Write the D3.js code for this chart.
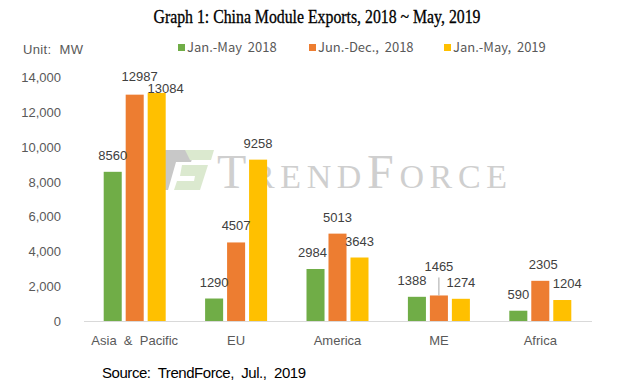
<!DOCTYPE html>
<html>
<head>
<meta charset="utf-8">
<script src="https://cdn.jsdelivr.net/npm/d3@7"></script>
<style>
  body { margin: 0; background: #fff; }
  text { font-family: Arial, "Liberation Sans", sans-serif; }
</style>
</head>
<body>
<div class="svg-container"></div>
<script>
// chart data
var regions = ["Asia & Pacific", "EU", "America", "ME", "Africa"];
var seriesNames = ["Jan.-May 2018", "Jun.-Dec., 2018", "Jan.-May, 2019"];
var janMay2018 = [8560, 1290, 2984, 1388, 590];
var junDec2018 = [12987, 4507, 5013, 1465, 2305];
var janMay2019 = [13084, 9258, 3643, 1274, 1204];
var yTicks = [0, 2000, 4000, 6000, 8000, 10000, 12000, 14000];

var colors = ["#70AD47", "#ED7D31", "#FFC000"];
var series = [janMay2018, junDec2018, janMay2019];
// label nudges [dx, dy] per series/region, like the moved excel labels
var nudges = [
  [[0, 0], [0, 0], [-3, 0], [-5, 0], [0, 0]],
  [[5, -2], [0, 0], [0, 0], [0, -12], [3, 0]],
  [[9, 12], [0, 0], [0, 0], [0, 0], [5, 0]]
];

var svg = d3.select("body").select(".svg-container").append("svg")
    .attr("width", 619)
    .attr("height", 392);

var x0 = d3.scaleBand().domain(regions).range([84, 591]);
var x1 = d3.scaleBand().domain(d3.range(3))
    .range([x0.bandwidth() / 2 - 31, x0.bandwidth() / 2 + 31])
    .paddingInner(0.18).paddingOuter(0);
var y = d3.scaleLinear().domain([0, 14000]).range([321, 77]);

// title
svg.append("text")
    .attr("x", 317).attr("y", 23)
    .attr("text-anchor", "middle")
    .style("font-family", "'Liberation Serif', 'Times New Roman', serif")
    .attr("font-size", "18px")
    .attr("fill", "#000")
    .attr("stroke", "#000").attr("stroke-width", 0.3)
    .attr("textLength", 327)
    .attr("lengthAdjust", "spacingAndGlyphs")
    .text("Graph 1: China Module Exports, 2018 ~ May, 2019");

// watermark
var wm = svg.append("g").attr("opacity", 0.4);
wm.append("path").attr("d", "M163,150 L195,150 L191,162 L176,162 L168,190 L158,190 Z").attr("fill", "#777");
wm.append("path").attr("d", "M185,150 L214,150 L211,160 L190,160 Z").attr("fill", "#a8c98a");
wm.append("path").attr("d", "M182,165 L208,165 L200,190 L174,190 L177,181 L194,181 L195,176 L180,176 Z").attr("fill", "#a8c98a");
wm.append("text")
    .attr("x", 217).attr("y", 188)
    .style("font-family", "'Liberation Serif', 'Times New Roman', serif")
    .style("font-variant", "small-caps")
    .attr("font-size", "48px")
    .attr("fill", "#888")
    .attr("textLength", 290)
    .text("TrendForce");

// unit + legend
svg.append("text").attr("x", 23).attr("y", 54)
    .attr("font-size", "13px").attr("fill", "#595959")
    .style("white-space", "pre")
    .attr("textLength", 60)
    .text("Unit:  MW");

var legX = [178, 309, 444];
var leg = svg.selectAll(".leg").data(seriesNames).enter().append("g")
    .attr("class", "leg")
    .attr("transform", function(d, i) { return "translate(" + legX[i] + ",0)"; });
leg.append("rect").attr("x", 0).attr("y", 44).attr("width", 7).attr("height", 7)
    .attr("fill", function(d, i) { return colors[i]; });
leg.append("text").attr("x", 9).attr("y", 52)
    .attr("font-size", "13px").attr("fill", "#595959")
    .style("font-family", "'Noto Sans CJK KR', 'DejaVu Sans', sans-serif")
    .style("white-space", "pre")
    .text(function(d) { return d.replace(" ", "  "); });

// y axis labels
svg.selectAll(".ytick").data(yTicks).enter().append("text")
    .attr("class", "ytick")
    .attr("x", 61)
    .attr("y", function(d) { return y(d) + 5; })
    .attr("text-anchor", "end")
    .attr("font-size", "13px")
    .attr("fill", "#595959")
    .text(function(d) { return d3.format(",")(d); });

// baseline
svg.append("line")
    .attr("x1", 84).attr("x2", 592)
    .attr("y1", y(0) + 0.5).attr("y2", y(0) + 0.5)
    .attr("stroke", "#D9D9D9").attr("stroke-width", 1);

// bars
var groups = svg.selectAll(".grp").data(regions).enter().append("g")
    .attr("class", "grp")
    .attr("transform", function(d) { return "translate(" + x0(d) + ",0)"; });

function cells(d, ri) {
    return series.map(function(s, si) { return { si: si, ri: ri, v: s[ri] }; });
}

groups.selectAll("rect").data(cells).enter().append("rect")
    .attr("x", function(d) { return x1(d.si); })
    .attr("width", x1.bandwidth())
    .attr("y", function(d) { return y(d.v); })
    .attr("height", function(d) { return y(0) - y(d.v); })
    .attr("fill", function(d) { return colors[d.si]; });

// leader line for the raised label
groups.selectAll(".lead").data(function(d, ri) {
        return cells(d, ri).filter(function(c) { return nudges[c.si][c.ri][1] < -8; });
    }).enter().append("line")
    .attr("class", "lead")
    .attr("x1", function(d) { return x1(d.si) + x1.bandwidth() / 2; })
    .attr("x2", function(d) { return x1(d.si) + x1.bandwidth() / 2; })
    .attr("y1", function(d) { return y(d.v) - 18; })
    .attr("y2", function(d) { return y(d.v); })
    .attr("stroke", "#a6a6a6").attr("stroke-width", 1);

groups.selectAll(".lbl").data(cells).enter().append("text")
    .attr("class", "lbl")
    .attr("x", function(d) { return x1(d.si) + x1.bandwidth() / 2 + nudges[d.si][d.ri][0]; })
    .attr("y", function(d) { return y(d.v) - 12 + nudges[d.si][d.ri][1]; })
    .attr("text-anchor", "middle")
    .attr("font-size", "13px")
    .attr("fill", "#404040")
    .text(function(d) { return d.v; });

// category labels
svg.selectAll(".cat").data(regions).enter().append("text")
    .attr("class", "cat")
    .attr("x", function(d) { return x0(d) + x0.bandwidth() / 2; })
    .attr("y", 345)
    .attr("text-anchor", "middle")
    .attr("font-size", "13px")
    .attr("fill", "#595959")
    .style("white-space", "pre")
    .text(function(d) { return d.replace(/ /g, "  "); });

// source
svg.append("text").attr("x", 102).attr("y", 378)
    .attr("font-size", "15px").attr("fill", "#000")
    .style("white-space", "pre")
    .attr("textLength", 204)
    .text("Source:  TrendForce,  Jul.,  2019");
</script>
</body>
</html>
